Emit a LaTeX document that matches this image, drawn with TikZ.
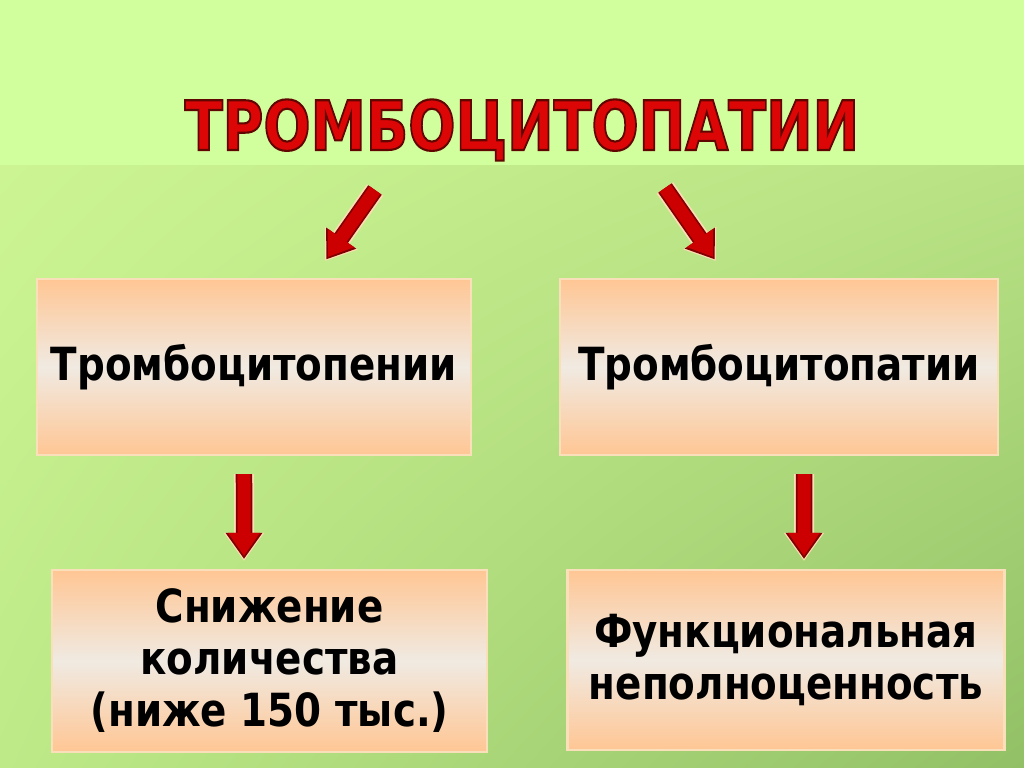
\documentclass[tikz,border=0pt]{standalone}
\usepackage{fontspec}
\setmainfont{DejaVu Sans}
\usetikzlibrary{arrows.meta,shadings}
\definecolor{bgtop}{RGB}{210,255,158}
\definecolor{bgul}{RGB}{204,244,146}
\definecolor{bgur}{RGB}{184,226,132}
\definecolor{bgll}{RGB}{190,234,136}
\definecolor{bglr}{RGB}{146,192,102}
\definecolor{peach}{RGB}{255,198,148}
\definecolor{pale}{RGB}{240,234,226}
\definecolor{boxedge}{RGB}{250,224,186}
\definecolor{titlered}{RGB}{220,6,6}
\definecolor{arrred}{RGB}{204,0,0}
\definecolor{arrdark}{RGB}{128,0,0}
\definecolor{arrglow}{RGB}{255,222,180}
\newcommand\nar[1]{\scalebox{0.85}[1]{#1}}
% red letters with a dark red stroke round them
\newcommand\titletxt{\scalebox{0.815}[1]{\special{pdf:literal direct 2 Tr 0.6 w 0.38 0.02 0 RG}ТРОМБОЦИТОПАТИИ\special{pdf:literal direct 0 Tr}}}

\begin{document}
\begin{tikzpicture}[
  catbox/.style={shade, top color=peach, bottom color=peach, middle color=pale,
    draw=boxedge, line width=0.6pt, align=center, inner sep=0pt,
    font=\bfseries\fontsize{13}{14.8}\selectfont},
  titlestyle/.style={font=\bfseries\fontsize{19.4}{22}\selectfont, inner sep=0pt},
  blockarrow/.style={draw=arrred, line width=1.3mm,
    -{Triangle[length=2.3mm 0, width=3.0mm 0]},
    preaction={draw=arrglow, line width=2.0mm, -{Triangle[length=2.8mm 0, width=3.8mm 0]}, shorten >=-0.5mm},
    preaction={draw=arrdark, line width=1.65mm, -{Triangle[length=2.6mm 0, width=3.5mm 0]}, shorten >=-0.3mm}}]
  \useasboundingbox (0,0) rectangle (10.24,7.67);
  % background
  \fill[bgtop] (0,0) rectangle (10.24,7.67);
  \shade[upper left=bgul, upper right=bgur, lower left=bgll, lower right=bglr]
    (0,0) rectangle (10.24,6.02);

  % title
  \node[titlestyle, text=titlered] (title) at (5.22,6.37) {\titletxt};

  % boxes
  \node[catbox, minimum width=4.34cm, minimum height=1.76cm] (tpenia) at (2.54,4.00)
    {\nar{Тромбоцитопении}};
  \node[catbox, minimum width=4.38cm, minimum height=1.76cm] (tpatia) at (7.79,4.00)
    {\nar{Тромбоцитопатии}};
  \node[catbox, minimum width=4.35cm, minimum height=1.82cm] (decrease) at (2.695,1.06)
    {\nar{Снижение}\\ \nar{количества}\\ \nar{(ниже 150 тыс.)}};
  \node[catbox, minimum width=4.37cm, minimum height=1.80cm] (dysfunc) at (7.86,1.07)
    {\nar{Функциональная}\\ \nar{неполноценность}};

  % arrows
  \draw[blockarrow] ([shift={(-1.47,-0.60)}]title.center) -- ([shift={(0.74,0.21)}]tpenia.north);
  \draw[blockarrow] ([shift={(1.43,-0.58)}]title.center) -- ([shift={(-0.66,0.21)}]tpatia.north);
  \draw[blockarrow] ([shift={(-0.10,-0.18)}]tpenia.south) -- ([shift={(-0.255,0.13)}]decrease.north);
  \draw[blockarrow] ([shift={(0.25,-0.18)}]tpatia.south) -- ([shift={(0.18,0.13)}]dysfunc.north);
\end{tikzpicture}
\end{document}
